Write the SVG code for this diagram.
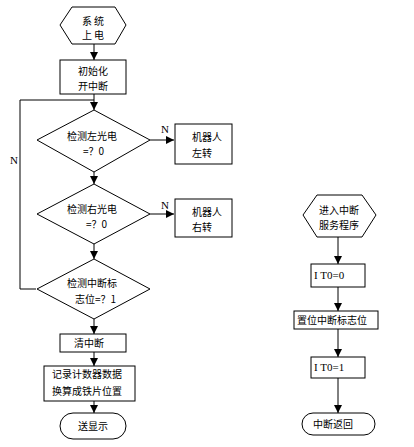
<svg xmlns="http://www.w3.org/2000/svg" width="414" height="447" viewBox="0 0 414 447">
<defs>
<marker id="arr" viewBox="0 0 10 10" refX="10" refY="5" markerWidth="8" markerHeight="8" markerUnits="userSpaceOnUse" orient="auto">
<path d="M0,0 L10,5 L0,10 Z" fill="#000"/>
</marker>
</defs>
<style>
.s{fill:#fff;stroke:#000;stroke-width:1}
.t{font-family:"Noto Sans CJK SC","Liberation Sans",sans-serif;font-size:10px;fill:#000}
.m{text-anchor:middle}
.c{fill:none;stroke:#000;stroke-width:1}
.a{fill:none;stroke:#000;stroke-width:1;marker-end:url(#arr)}
.l{font-family:"Liberation Serif",serif;font-size:11px;fill:#000}
</style>
<rect width="414" height="447" fill="#fff"/>

<g id="connectors">
<line class="a" x1="94" y1="44" x2="94" y2="60"/>
<line class="a" x1="94" y1="94" x2="94" y2="110"/>
<polyline class="c" points="36,289 20,289 20,100 94,100"/>
<line class="a" x1="150" y1="140" x2="174" y2="140"/>
<line class="a" x1="94" y1="172" x2="94" y2="184"/>
<line class="a" x1="150" y1="214" x2="174" y2="214"/>
<line class="a" x1="94" y1="244" x2="94" y2="259"/>
<line class="a" x1="94" y1="319" x2="94" y2="334"/>
<line class="a" x1="94" y1="352" x2="94" y2="366"/>
<line class="a" x1="94" y1="401" x2="94" y2="413"/>
<line class="a" x1="338" y1="237" x2="338" y2="264"/>
<line class="a" x1="338" y1="287" x2="338" y2="311"/>
<line class="a" x1="338" y1="329" x2="338" y2="357"/>
<line class="a" x1="338" y1="378" x2="338" y2="413"/>
<text class="l" x="161" y="133">N</text>
<text class="l" x="161" y="209">N</text>
<text class="l" x="10" y="164">N</text>
</g>

<g id="start">
<polygon class="s" points="72,7 115,7 126,25 115,44 72,44 60,25"/>
<text class="t m" x="93" y="25">系 统</text>
<text class="t m" x="93" y="39">上 电</text>
</g>

<g id="init">
<rect class="s" x="60" y="60" width="66" height="34"/>
<text class="t m" x="93" y="75">初始化</text>
<text class="t m" x="93" y="90">开中断</text>
</g>

<g id="d1">
<polygon class="s" points="94,110 150,140 94,172 37,140"/>
<text class="t" x="67" y="140">检测左光电</text>
<text class="t" x="83" y="155">=？0</text>
</g>

<g id="left">
<rect class="s" x="175" y="124" width="57" height="40"/>
<text class="t" x="192" y="141">机器人</text>
<text class="t" x="192" y="157">左转</text>
</g>

<g id="d2">
<polygon class="s" points="94,184 150,214 94,244 37,214"/>
<text class="t" x="67" y="213">检测右光电</text>
<text class="t" x="86" y="228">=？0</text>
</g>

<g id="right">
<rect class="s" x="175" y="199" width="57" height="38"/>
<text class="t" x="192" y="216">机器人</text>
<text class="t" x="192" y="231">右转</text>
</g>

<g id="d3">
<polygon class="s" points="94,259 150,289 94,319 37,289"/>
<text class="t" x="67" y="287">检测中断标</text>
<text class="t" x="75" y="303">志位=？1</text>
</g>

<g id="clear">
<rect class="s" x="60" y="334" width="66" height="18"/>
<text class="t" x="74" y="347">清中断</text>
</g>

<g id="record">
<rect class="s" x="44" y="366" width="91" height="35"/>
<text class="t" x="52" y="378">记录计数器数据</text>
<text class="t" x="52" y="395">换算成铁片位置</text>
</g>

<g id="show">
<rect class="s" x="60" y="413" width="66" height="26" rx="13" ry="13"/>
<text class="t m" x="93" y="430">送显示</text>
</g>

<g id="isr">
<polygon class="s" points="317,195 362,195 376,215 362,237 317,237 303,215"/>
<text class="t m" x="339" y="214">进入中断</text>
<text class="t m" x="339" y="229">服务程序</text>
</g>

<g id="it0">
<rect class="s" x="311" y="264" width="54" height="23"/>
<text class="l" x="314" y="279">I T0=0</text>
</g>

<g id="setflag">
<rect class="s" x="294" y="311" width="84" height="18"/>
<text class="t" x="297" y="324">置位中断标志位</text>
</g>

<g id="it1">
<rect class="s" x="311" y="357" width="54" height="21"/>
<text class="l" x="314" y="371">I T0=1</text>
</g>

<g id="ret">
<rect class="s" x="302" y="413" width="73" height="22" rx="11" ry="11"/>
<text class="t" x="313" y="428">中断返回</text>
</g>
</svg>
